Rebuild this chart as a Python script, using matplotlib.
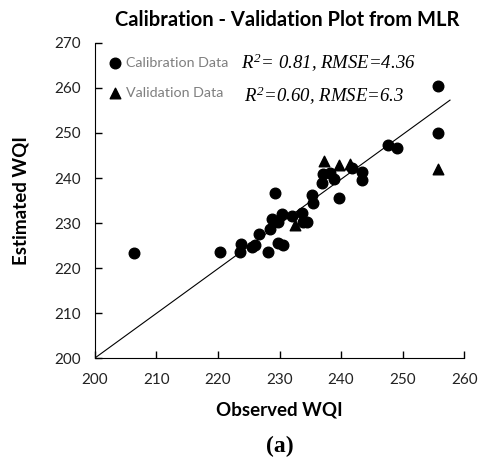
import matplotlib
matplotlib.use("Agg")
import matplotlib.pyplot as plt

plt.rcParams['mathtext.fontset'] = 'custom'
plt.rcParams['mathtext.it'] = 'Liberation Serif:italic'
plt.rcParams['mathtext.rm'] = 'Liberation Serif:italic'

# observed vs estimated WQI, calibration set
cal_obs = [206.4, 220.3, 223.6, 223.8, 225.5, 226.0, 226.6, 228.2, 228.5, 228.7,
           229.8, 230.4, 229.8, 230.6, 229.3, 232.0, 233.6, 234.4, 233.8, 235.2,
           235.4, 236.9, 237.1, 238.2, 238.8, 239.6, 241.7, 243.4, 243.4, 247.6,
           249.1, 255.8, 255.8]
cal_est = [223.3, 223.6, 223.6, 225.3, 224.7, 225.1, 227.5, 223.6, 228.6, 231.0,
           230.3, 232.1, 225.6, 225.1, 236.7, 231.6, 232.3, 230.3, 230.3, 236.2,
           234.4, 238.8, 240.9, 241.2, 239.7, 235.5, 242.2, 241.4, 239.6, 247.3,
           246.6, 260.4, 250.0]

# validation set
val_obs = [232.5, 237.2, 239.7, 241.5, 255.8]
val_est = [229.6, 243.8, 242.9, 243.1, 242.0]

# fitted line end points
fit_x = [200, 257.7]
fit_y = [200, 257.3]

sans = ['Lato', 'DejaVu Sans']
serif = ['Liberation Serif', 'DejaVu Serif']

fig = plt.figure(figsize=(4.84, 4.62), dpi=100)
ax = fig.add_axes([0.196, 0.225, 0.763, 0.682])

ax.plot(fit_x, fit_y, color='black', linewidth=0.8, zorder=1)
ax.scatter(cal_obs, cal_est, s=58, marker='o', color='black', zorder=3,
           label='Calibration Data')
ax.scatter(val_obs, val_est, s=58, marker='^', color='black', zorder=3,
           label='Validation Data')

ax.set_xlim(200, 260)
ax.set_ylim(200, 270)
ax.set_xticks(range(200, 261, 10))
ax.set_yticks(range(200, 271, 10))
ax.spines['top'].set_visible(False)
ax.spines['right'].set_visible(False)
ax.tick_params(direction='in', length=5, width=1, labelsize=11)
ax.tick_params(axis='x', pad=11)
ax.tick_params(axis='y', pad=10)
for lbl in ax.get_xticklabels() + ax.get_yticklabels():
    lbl.set_family(sans)
    lbl.set_color('#222222')

leg = ax.legend(loc='upper left', bbox_to_anchor=(0.0, 0.982), frameon=False,
                handletextpad=0.0, handlelength=1.6, labelspacing=1.25,
                borderaxespad=0.2, prop={'family': sans, 'size': 10.3})
for t in leg.get_texts():
    t.set_color('#7f7f7f')

ax.text(223.8, 265.6, r'$R^2$= 0.81, RMSE=4.36', fontsize=13.5, style='italic',
        family=serif, va='center')
ax.text(224.2, 258.3, r'$R^2$=0.60, RMSE=6.3', fontsize=13.5, style='italic',
        family=serif, va='center')

ax.set_title('Calibration - Validation Plot from MLR', fontsize=14.5,
             fontweight='bold', family=sans, pad=12, x=0.52)
ax.set_xlabel('Observed WQI', fontsize=13.5, fontweight='bold', family=sans,
              labelpad=10)
ax.set_ylabel('Estimated WQI', fontsize=13.5, fontweight='bold', family=sans,
              labelpad=18)

fig.text(0.578, 0.022, '(a)', fontsize=17, fontweight='bold', family=serif,
         ha='center')

fig.savefig('out.png', dpi=100)
